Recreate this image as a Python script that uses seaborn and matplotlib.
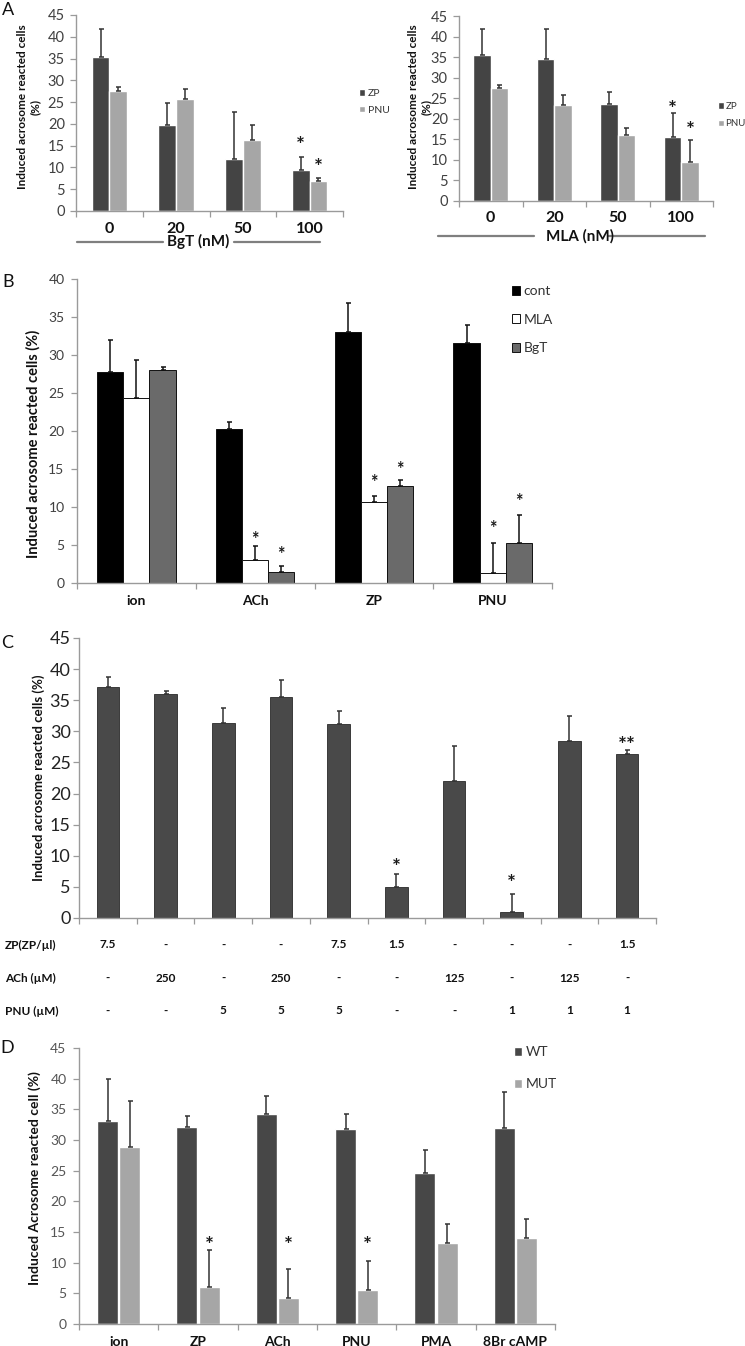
import numpy as np
import pandas as pd
import matplotlib
matplotlib.use('Agg')
import matplotlib.pyplot as plt
import matplotlib.transforms as mtransforms
import seaborn as sns

# ---- panel A (BgT / MLA dose response) ----
a_doses = ['0', '20', '50', '100']
a_groups = ['ZP', 'PNU']
a_bgt_zp = [35.4, 19.7, 12.0, 9.3]
a_bgt_zp_err = [6.5, 5.0, 10.8, 3.0]
a_bgt_pnu = [27.6, 25.8, 16.2, 6.9]
a_bgt_pnu_err = [0.8, 2.2, 3.5, 0.7]
a_bgt_star_zp = [None, None, None, 16.4]
a_bgt_star_pnu = [None, None, None, 11.3]

a_mla_zp = [35.4, 34.5, 23.5, 15.6]
a_mla_zp_err = [6.4, 7.3, 2.9, 5.7]
a_mla_pnu = [27.5, 23.3, 16.1, 9.5]
a_mla_pnu_err = [0.7, 2.5, 1.6, 5.3]
a_mla_star_zp = [None, None, None, 23.6]
a_mla_star_pnu = [None, None, None, 18.5]

# ---- panel B ----
b_inducers = ['ion', 'ACh', 'ZP', 'PNU']
b_groups = ['cont', 'MLA', 'BgT']
b_cont = [27.8, 20.2, 33.0, 31.6]
b_cont_err = [4.2, 1.0, 3.8, 2.4]
b_mla = [24.3, 3.0, 10.6, 1.3]
b_mla_err = [5.0, 1.9, 0.9, 3.9]
b_bgt = [28.0, 1.5, 12.7, 5.3]
b_bgt_err = [0.4, 0.8, 0.9, 3.6]
b_star_mla = [None, 6.4, 14.0, 7.9]
b_star_bgt = [None, 4.5, 15.7, 11.4]

# ---- panel C ----
c_zp = ['7.5', '-', '-', '-', '7.5', '1.5', '-', '-', '-', '1.5']
c_ach = ['-', '250', '-', '250', '-', '-', '125', '-', '125', '-']
c_pnu = ['-', '-', '5', '5', '5', '-', '-', '1', '1', '1']
c_vals = [37.1, 36.0, 31.3, 35.5, 31.1, 5.0, 22.0, 1.0, 28.5, 26.3]
c_err = [1.6, 0.5, 2.4, 2.8, 2.1, 2.0, 5.7, 2.9, 3.9, 0.7]
c_star = [None, None, None, None, None, 9.0, None, 6.4, None, 28.7]
c_star_text = ['', '', '', '', '', '*', '', '*', '', '**']
c_row_labels = ['ZP(ZP/\u00b5l)', 'ACh (\u00b5M)', 'PNU (\u00b5M)']

# ---- panel D ----
d_inducers = ['ion', 'ZP', 'ACh', 'PNU', 'PMA', '8Br cAMP']
d_groups = ['WT', 'MUT']
d_wt = [33.1, 32.1, 34.3, 31.8, 24.6, 32.0]
d_wt_err = [6.9, 1.8, 2.9, 2.4, 3.7, 5.9]
d_mut = [28.9, 6.0, 4.2, 5.6, 13.2, 14.1]
d_mut_err = [7.5, 6.1, 4.7, 4.6, 3.1, 3.0]
d_star_mut = [None, 13.7, 13.7, 13.7, None, None]

W, H = 745, 1346
SPINE = '#9a9a9a'

sns.set_theme(style='white')
plt.rcParams['font.family'] = ['Lato', 'DejaVu Sans']

fig = plt.figure(figsize=(W / 100, H / 100), dpi=100)


def px_box(x0, y0, x1, y1):
    return [x0 / W, 1 - y1 / H, (x1 - x0) / W, (y1 - y0) / H]


def draw_bars(ax, cats, groups, means, errs, colors, width, gap=0.0,
              edge=None, lw=0.0, ecolor='#333333', legend=True):
    rows = []
    for g, vals in zip(groups, means):
        for c, v in zip(cats, vals):
            rows.append({'cat': c, 'group': g, 'val': v})
    df = pd.DataFrame(rows)
    kw = {}
    if edge is not None:
        kw = dict(edgecolor=edge, linewidth=lw)
    sns.barplot(data=df, x='cat', y='val', hue='group', order=cats,
                hue_order=groups, palette=colors, width=width, gap=gap,
                errorbar=None, saturation=1, legend=legend, ax=ax, **kw)
    bars = list(ax.containers)
    for cont, err in zip(bars, errs):
        xs = [b.get_x() + b.get_width() / 2 for b in cont]
        hs = [b.get_height() for b in cont]
        ax.errorbar(xs, hs, yerr=[np.zeros(len(err)), err], fmt='none',
                    ecolor=ecolor, elinewidth=1.1, capsize=1.8, capthick=1.1)
    ax.set_xlabel('')
    ax.set_ylabel('')
    return bars


def add_stars(ax, cont, stars, fs, texts=None):
    for i, (b, s) in enumerate(zip(cont, stars)):
        if s is None:
            continue
        t = texts[i] if texts else '*'
        ax.annotate(t, (b.get_x() + b.get_width() / 2, s),
                    xytext=(0, -fs * 0.3), textcoords='offset points',
                    ha='center', va='center', fontsize=fs,
                    fontweight='bold', color='#1a1a1a')


def style_axes(ax, n, ymax, labels, ytick_fs, xtick_fs, xpad, ypad,
               ycolor='#404040'):
    ax.set_xlim(-0.5, n - 0.5)
    ax.set_ylim(0, ymax)
    ax.set_yticks(np.arange(0, ymax + 1, 5))
    ax.set_xticks(np.arange(n + 1) - 0.5, [''] * (n + 1))
    ax.set_xticks(np.arange(n), labels, minor=True)
    ax.tick_params(axis='x', which='minor', length=0, pad=xpad,
                   labelsize=xtick_fs, labelcolor='#111111')
    for t in ax.get_xticklabels(minor=True):
        t.set_fontweight('bold')
    ax.tick_params(axis='x', which='major', length=4, width=0.9,
                   color=SPINE, direction='out', bottom=True)
    ax.tick_params(axis='y', length=4, width=0.9, color=SPINE,
                   direction='out', left=True, pad=ypad,
                   labelsize=ytick_fs, labelcolor=ycolor)
    sns.despine(ax=ax)
    for s in ['left', 'bottom']:
        ax.spines[s].set_color(SPINE)
        ax.spines[s].set_linewidth(1.0)


def legend_at(ax, x, y, fs, spacing, hsize, pad=0.25):
    sns.move_legend(ax, 'upper left', bbox_to_anchor=(x / W, 1 - y / H),
                    bbox_transform=fig.transFigure, frameon=False, title=None,
                    fontsize=fs, labelspacing=spacing, handlelength=hsize,
                    handleheight=hsize, handletextpad=pad, borderpad=0,
                    borderaxespad=0, labelcolor='#333333')


def dose_line(ax, text, segs, ty, tx):
    for x0, x1 in segs:
        ax.plot([x0, x1], [ty, ty], transform=ax.transAxes, clip_on=False,
                color='#7f7f7f', lw=1.6)
    ax.text(tx, ty, text, transform=ax.transAxes, ha='center', va='center',
            fontsize=11, fontweight='bold', color='#111111')


a_colors = ['#444444', '#a6a6a6']

# A left
axA1 = fig.add_axes(px_box(76, 15, 343, 211))
bars = draw_bars(axA1, a_doses, a_groups, [a_bgt_zp, a_bgt_pnu],
                 [a_bgt_zp_err, a_bgt_pnu_err], a_colors, width=0.53)
add_stars(axA1, bars[0], a_bgt_star_zp, 15)
add_stars(axA1, bars[1], a_bgt_star_pnu, 15)
style_axes(axA1, 4, 45, a_doses, 10.5, 11.5, 8, 4)
legend_at(axA1, 359, 89, 7.5, 0.75, 0.6)
dose_line(axA1, 'BgT (nM)', [(0.004, 0.326), (0.59, 0.914)], -0.158, 0.457)

# A right
axA2 = fig.add_axes(px_box(459, 16, 713, 201))
bars = draw_bars(axA2, a_doses, a_groups, [a_mla_zp, a_mla_pnu],
                 [a_mla_zp_err, a_mla_pnu_err], a_colors, width=0.55)
add_stars(axA2, bars[0], a_mla_star_zp, 15)
add_stars(axA2, bars[1], a_mla_star_pnu, 15)
style_axes(axA2, 4, 45, a_doses, 10.5, 11.5, 7, 4)
legend_at(axA2, 718, 102, 7, 0.85, 0.6, pad=0.15)
dose_line(axA2, 'MLA (nM)', [(-0.083, 0.295), (0.587, 0.969)], -0.189, 0.476)

fig.text(29 / W, 1 - 107 / H, 'Induced acrosome reacted cells\n(%)',
         rotation=90, ha='center', va='center', fontsize=8.5,
         fontweight='bold', multialignment='center', color='#111111')
fig.text(420 / W, 1 - 107 / H, 'Induced acrosome reacted cells\n(%)',
         rotation=90, ha='center', va='center', fontsize=8.5,
         fontweight='bold', multialignment='center', color='#111111')

# B
axB = fig.add_axes(px_box(77, 279, 552, 583))
bars = draw_bars(axB, b_inducers, b_groups, [b_cont, b_mla, b_bgt],
                 [b_cont_err, b_mla_err, b_bgt_err],
                 ['#000000', '#ffffff', '#6a6a6a'], width=0.66,
                 edge='#111111', lw=0.7, ecolor='#111111')
add_stars(axB, bars[1], b_star_mla, 13)
add_stars(axB, bars[2], b_star_bgt, 13)
style_axes(axB, 4, 40, b_inducers, 10, 10, 8.5, 5)
legend_at(axB, 512, 285, 10, 1.2, 0.6)
fig.text(33 / W, 1 - 444 / H, 'Induced acrosome reacted cells (%)',
         rotation=90, ha='center', va='center', fontsize=10.5,
         fontweight='bold', color='#111111')

# C
axC = fig.add_axes(px_box(79, 638, 656, 918))
c_conditions = [f'{z}|{a}|{p}|{i}' for i, (z, a, p) in
                enumerate(zip(c_zp, c_ach, c_pnu))]
bars = draw_bars(axC, c_conditions, ['C'], [c_vals], [c_err], ['#494949'],
                 width=0.39, edge='#2a2a2a', lw=0.6, legend=False)
add_stars(axC, bars[0], c_star, 15, c_star_text)
style_axes(axC, 10, 45, [''] * 10, 13, 10, 4, 2, ycolor='#222222')
fig.text(39 / W, 1 - 778 / H, 'Induced acrosome reacted cells (%)',
         rotation=90, ha='center', va='center', fontsize=9.5,
         fontweight='bold', color='#111111')
row_tr = mtransforms.blended_transform_factory(axC.transData, fig.transFigure)
for ry, lab, row in zip([945, 978, 1011], c_row_labels, [c_zp, c_ach, c_pnu]):
    fig.text(5 / W, 1 - ry / H, lab, ha='left', va='center', fontsize=8.5,
             fontweight='bold', color='#111111')
    for i, v in enumerate(row):
        axC.text(i, 1 - ry / H, v, transform=row_tr, ha='center',
                 va='center', fontsize=8.5, fontweight='bold',
                 color='#111111')

# D
axD = fig.add_axes(px_box(79, 1048, 555, 1324))
bars = draw_bars(axD, d_inducers, d_groups, [d_wt, d_mut],
                 [d_wt_err, d_mut_err], ['#474747', '#a6a6a6'], width=0.56,
                 gap=0.06, ecolor='#333333')
add_stars(axD, bars[1], d_star_mut, 15)
style_axes(axD, 6, 45, d_inducers, 10, 10, 8.5, 5, ycolor='#555555')
legend_at(axD, 514, 1046, 10, 1.45, 0.6)
fig.text(35 / W, 1 - 1178 / H, 'Induced Acrosome reacted cell (%)',
         rotation=90, ha='center', va='center', fontsize=10,
         fontweight='bold', color='#111111')

for letter, lx, ly in [('A', 8, 10), ('B', 8, 282), ('C', 7, 643), ('D', 7, 1048)]:
    fig.text(lx / W, 1 - ly / H, letter, ha='center', va='center',
             fontsize=13, color='#111111')

fig.savefig('out.png', dpi=100)
